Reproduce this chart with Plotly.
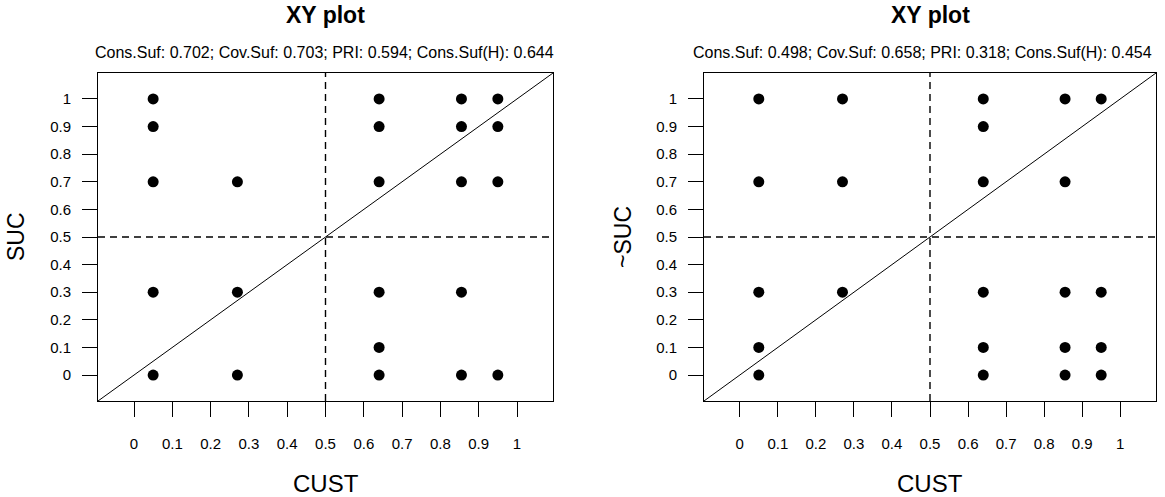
import plotly.graph_objects as go

# ---- data ----
tick_vals = [0, 0.1, 0.2, 0.3, 0.4, 0.5, 0.6, 0.7, 0.8, 0.9, 1]
tick_text = ["0", "0.1", "0.2", "0.3", "0.4", "0.5", "0.6", "0.7", "0.8", "0.9", "1"]

left_cust = [0.05, 0.05, 0.05, 0.05, 0.05,
             0.27, 0.27, 0.27,
             0.64, 0.64, 0.64, 0.64, 0.64, 0.64,
             0.855, 0.855, 0.855, 0.855, 0.855,
             0.95, 0.95, 0.95, 0.95]
left_suc = [1, 0.9, 0.7, 0.3, 0,
            0.7, 0.3, 0,
            1, 0.9, 0.7, 0.3, 0.1, 0,
            1, 0.9, 0.7, 0.3, 0,
            1, 0.9, 0.7, 0]

right_cust = [0.05, 0.05, 0.05, 0.05, 0.05,
              0.27, 0.27, 0.27,
              0.64, 0.64, 0.64, 0.64, 0.64, 0.64,
              0.855, 0.855, 0.855, 0.855, 0.855,
              0.95, 0.95, 0.95, 0.95]
right_nsuc = [1, 0.7, 0.3, 0.1, 0,
              1, 0.7, 0.3,
              1, 0.9, 0.7, 0.3, 0.1, 0,
              1, 0.7, 0.3, 0.1, 0,
              1, 0.3, 0.1, 0]

left_sub = "Cons.Suf: 0.702; Cov.Suf: 0.703; PRI: 0.594; Cons.Suf(H): 0.644"
right_sub = "Cons.Suf: 0.498; Cov.Suf: 0.658; PRI: 0.318; Cons.Suf(H): 0.454"
threshold = 0.5
diag = [-0.2, 1.2]
axis_range = [-0.094, 1.094]

W, H = 1165, 497
FONT = "Liberation Sans, Arial, sans-serif"


def px_x(v):
    return v / W


def px_y(v):
    return 1 - v / H


fig = go.Figure()

panels = [
    dict(xs=left_cust, ys=left_suc, xa="x", ya="y", ylab="SUC", sub=left_sub,
         px=(98, 553), ylab_x=16, sub_x=325),
    dict(xs=right_cust, ys=right_nsuc, xa="x2", ya="y2", ylab="~SUC", sub=right_sub,
         px=(704, 1156), ylab_x=623, sub_x=922),
]
top_px, bot_px = 73, 401

for i, p in enumerate(panels):
    fig.add_trace(go.Scatter(x=diag, y=diag, mode="lines", xaxis=p["xa"], yaxis=p["ya"],
                             line=dict(color="black", width=1), showlegend=False, hoverinfo="skip"))
    fig.add_trace(go.Scatter(x=p["xs"], y=p["ys"], mode="markers", xaxis=p["xa"], yaxis=p["ya"],
                             marker=dict(color="black", size=11), showlegend=False, cliponaxis=False))
    # dashed threshold lines
    fig.add_shape(type="line", xref=p["xa"], yref=p["ya"] + " domain", x0=threshold, x1=threshold,
                  y0=0, y1=1, line=dict(color="black", width=1.4, dash="7px,5px"))
    fig.add_shape(type="line", xref=p["xa"] + " domain", yref=p["ya"], x0=0, x1=1,
                  y0=threshold, y1=threshold, line=dict(color="black", width=1.4, dash="7px,5px"))
    cx = px_x((p["px"][0] + p["px"][1]) / 2)
    fig.add_annotation(text="<b>XY plot</b>", x=cx, y=px_y(15), xref="paper", yref="paper",
                       showarrow=False, font=dict(size=23, family=FONT, color="black"),
                       xanchor="center", yanchor="middle")
    fig.add_annotation(text=p["sub"], x=px_x(p["sub_x"]), y=px_y(52), xref="paper", yref="paper",
                       showarrow=False, font=dict(size=16, family=FONT, color="black"),
                       xanchor="center", yanchor="middle")
    fig.add_annotation(text="CUST", x=cx, y=px_y(483), xref="paper", yref="paper",
                       showarrow=False, font=dict(size=24, family=FONT, color="black"),
                       xanchor="center", yanchor="middle")
    fig.add_annotation(text=p["ylab"], x=px_x(p["ylab_x"]), y=px_y(237), xref="paper", yref="paper",
                       showarrow=False, textangle=-90, font=dict(size=23, family=FONT, color="black"),
                       xanchor="center", yanchor="middle")

axis_common = dict(range=axis_range, tickmode="array", tickvals=tick_vals, ticktext=tick_text,
                   ticks="outside", ticklen=15, tickwidth=1, tickcolor="black",
                   showline=True, linecolor="black", linewidth=1, mirror=True,
                   showgrid=False, zeroline=False,
                   tickfont=dict(size=15, family=FONT, color="black"))

ydom = [px_y(bot_px), px_y(top_px)]
fig.update_layout(
    width=W, height=H,
    margin=dict(l=0, r=0, t=0, b=0, autoexpand=False),
    paper_bgcolor="white", plot_bgcolor="white",
    xaxis=dict(domain=[px_x(98), px_x(553)], anchor="y", ticklabelstandoff=14, **axis_common),
    yaxis=dict(domain=ydom, anchor="x", ticklabelstandoff=8, **axis_common),
    xaxis2=dict(domain=[px_x(704), px_x(1156)], anchor="y2", ticklabelstandoff=14, **axis_common),
    yaxis2=dict(domain=ydom, anchor="x2", ticklabelstandoff=8, **axis_common),
)

# remove the browser's default 8px body margin so the figure fills the window exactly
fig.write_html("out.html", config={"displayModeBar": False},
               post_script="document.body.style.margin='0';document.body.style.overflow='hidden';")
